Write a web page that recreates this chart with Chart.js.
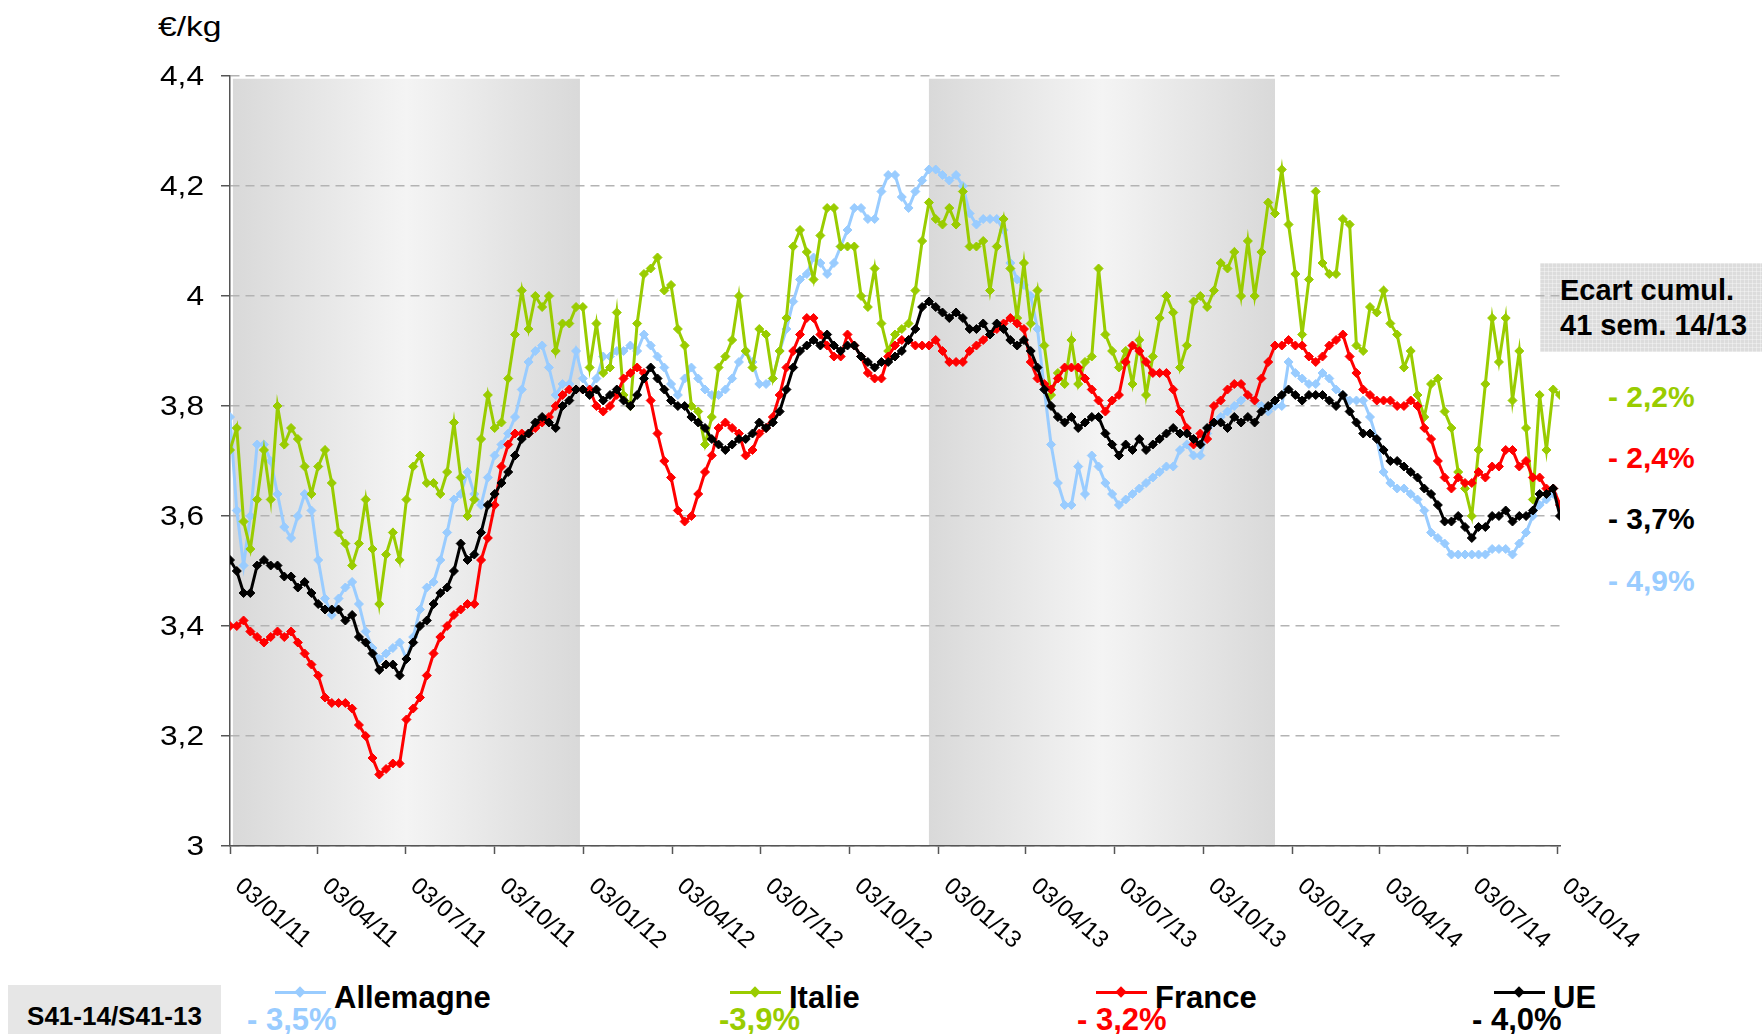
<!DOCTYPE html>
<html>
<head>
<meta charset="utf-8">
<script src="https://cdn.jsdelivr.net/npm/chart.js@4.4.0/dist/chart.umd.min.js"></script>
<style>
body{margin:0;background:#fff;font-family:"Liberation Sans",Arial,sans-serif;}
#wrap{position:relative;width:1762px;height:1034px;overflow:hidden;}
#chart{position:absolute;left:0;top:0;z-index:2;}
.t{position:absolute;line-height:1;white-space:nowrap;z-index:1;}
.b{font-weight:bold;}
</style>
</head>
<body>
<div id="wrap">
<canvas id="chart" width="1762" height="1034"></canvas>
</div>
<script>
// weekly prices, S1-11 .. S41-14, €/kg
var allemagne = [
3.78,3.61,3.51,3.60,3.73,3.73,3.70,3.64,3.58,3.56,
3.60,3.64,3.61,3.52,3.45,3.42,3.45,3.47,3.48,3.44,
3.39,3.36,3.34,3.35,3.36,3.37,3.34,3.38,3.43,3.47,
3.48,3.52,3.57,3.63,3.64,3.68,3.64,3.62,3.67,3.71,
3.73,3.75,3.78,3.83,3.88,3.90,3.91,3.87,3.82,3.84,
3.84,3.90,3.85,3.83,3.85,3.89,3.89,3.90,3.90,3.91,
3.90,3.93,3.91,3.89,3.87,3.84,3.82,3.85,3.87,3.85,
3.83,3.82,3.82,3.83,3.85,3.88,3.90,3.88,3.84,3.84,
3.85,3.90,3.94,3.99,4.03,4.04,4.07,4.06,4.04,4.06,
4.09,4.12,4.16,4.16,4.14,4.14,4.19,4.22,4.22,4.18,
4.16,4.19,4.21,4.23,4.23,4.22,4.21,4.22,4.20,4.15,
4.13,4.14,4.14,4.14,4.12,4.06,4.03,4.02,4.00,3.94,
3.83,3.73,3.66,3.62,3.62,3.69,3.64,3.71,3.69,3.66,
3.64,3.62,3.63,3.64,3.65,3.66,3.67,3.68,3.69,3.69,
3.72,3.73,3.71,3.71,3.75,3.77,3.78,3.79,3.80,3.81,
3.82,3.81,3.80,3.79,3.80,3.80,3.88,3.86,3.85,3.84,
3.84,3.86,3.85,3.83,3.82,3.81,3.81,3.81,3.78,3.74,
3.68,3.66,3.65,3.65,3.64,3.63,3.61,3.57,3.56,3.55,
3.53,3.53,3.53,3.53,3.53,3.53,3.54,3.54,3.54,3.53,
3.55,3.57,3.60,3.62,3.63,3.64,3.62];
var italie = [
3.72,3.76,3.59,3.54,3.63,3.72,3.63,3.80,3.73,3.76,
3.74,3.69,3.64,3.69,3.72,3.66,3.57,3.55,3.51,3.55,
3.63,3.54,3.44,3.53,3.57,3.52,3.63,3.69,3.71,3.66,
3.66,3.64,3.68,3.77,3.67,3.60,3.63,3.74,3.82,3.76,
3.77,3.85,3.93,4.01,3.94,4.00,3.98,4.00,3.90,3.95,
3.95,3.98,3.98,3.87,3.95,3.86,3.87,3.97,3.82,3.80,
3.95,4.04,4.05,4.07,4.01,4.02,3.94,3.91,3.80,3.79,
3.73,3.78,3.87,3.89,3.92,4.00,3.90,3.87,3.94,3.93,
3.85,3.90,3.96,4.09,4.12,4.08,4.03,4.11,4.16,4.16,
4.09,4.09,4.09,4.00,3.98,4.05,3.95,3.90,3.93,3.94,
3.95,4.01,4.10,4.17,4.14,4.13,4.16,4.13,4.19,4.09,
4.09,4.10,4.01,4.09,4.14,4.05,3.96,4.06,3.95,4.01,
3.91,3.82,3.86,3.84,3.92,3.84,3.88,3.89,4.05,3.93,
3.90,3.87,3.90,3.84,3.92,3.82,3.89,3.96,4.00,3.97,
3.87,3.91,3.99,4.00,3.98,4.01,4.06,4.05,4.08,4.00,
4.10,4.00,4.08,4.17,4.15,4.23,4.13,4.04,3.93,4.03,
4.19,4.06,4.04,4.04,4.14,4.13,3.91,3.90,3.98,3.97,
4.01,3.95,3.93,3.87,3.90,3.82,3.78,3.84,3.85,3.79,
3.76,3.68,3.65,3.60,3.72,3.84,3.96,3.88,3.96,3.81,
3.90,3.76,3.63,3.82,3.72,3.83,3.82];
var france = [
3.40,3.40,3.41,3.39,3.38,3.37,3.38,3.39,3.38,3.39,
3.37,3.35,3.33,3.31,3.27,3.26,3.26,3.26,3.25,3.22,
3.20,3.16,3.13,3.14,3.15,3.15,3.23,3.25,3.27,3.31,
3.35,3.38,3.40,3.42,3.43,3.44,3.44,3.52,3.56,3.62,
3.69,3.73,3.75,3.75,3.75,3.76,3.77,3.78,3.80,3.82,
3.83,3.83,3.83,3.83,3.80,3.79,3.80,3.82,3.85,3.86,
3.87,3.86,3.81,3.75,3.70,3.67,3.61,3.59,3.60,3.64,
3.68,3.71,3.76,3.77,3.76,3.75,3.71,3.72,3.75,3.76,
3.78,3.82,3.87,3.90,3.93,3.96,3.96,3.93,3.91,3.89,
3.89,3.93,3.91,3.89,3.86,3.85,3.85,3.89,3.91,3.92,
3.92,3.91,3.91,3.91,3.92,3.90,3.88,3.88,3.88,3.90,
3.91,3.92,3.93,3.94,3.95,3.96,3.95,3.94,3.88,3.85,
3.84,3.83,3.85,3.87,3.87,3.87,3.85,3.83,3.81,3.79,
3.81,3.82,3.88,3.91,3.90,3.88,3.86,3.86,3.86,3.83,
3.79,3.76,3.73,3.75,3.74,3.80,3.81,3.83,3.84,3.84,
3.82,3.81,3.85,3.88,3.91,3.91,3.92,3.91,3.91,3.89,
3.88,3.89,3.91,3.92,3.93,3.89,3.86,3.83,3.82,3.81,
3.81,3.81,3.80,3.80,3.81,3.80,3.76,3.74,3.70,3.67,
3.65,3.67,3.66,3.66,3.68,3.67,3.69,3.69,3.72,3.72,
3.69,3.70,3.67,3.67,3.65,3.65,3.62];
var ue = [
3.52,3.50,3.46,3.46,3.51,3.52,3.51,3.51,3.49,3.49,
3.47,3.48,3.46,3.44,3.43,3.43,3.43,3.41,3.42,3.38,
3.37,3.35,3.32,3.33,3.33,3.31,3.34,3.37,3.40,3.41,
3.44,3.46,3.47,3.50,3.55,3.52,3.53,3.57,3.62,3.64,
3.66,3.68,3.71,3.74,3.75,3.77,3.78,3.77,3.76,3.80,
3.81,3.83,3.83,3.82,3.83,3.81,3.82,3.83,3.81,3.80,
3.82,3.85,3.87,3.85,3.83,3.81,3.80,3.80,3.78,3.77,
3.76,3.74,3.73,3.72,3.73,3.74,3.74,3.75,3.77,3.76,
3.77,3.79,3.83,3.87,3.90,3.91,3.92,3.91,3.93,3.91,
3.90,3.91,3.91,3.89,3.88,3.87,3.88,3.88,3.89,3.90,
3.92,3.94,3.98,3.99,3.98,3.97,3.96,3.97,3.96,3.94,
3.94,3.95,3.93,3.95,3.94,3.92,3.91,3.92,3.90,3.87,
3.83,3.80,3.78,3.77,3.78,3.76,3.77,3.78,3.78,3.75,
3.73,3.71,3.73,3.72,3.74,3.72,3.73,3.74,3.75,3.76,
3.75,3.75,3.74,3.73,3.76,3.77,3.77,3.76,3.78,3.77,
3.78,3.77,3.79,3.80,3.81,3.82,3.83,3.82,3.81,3.82,
3.82,3.82,3.81,3.80,3.82,3.79,3.77,3.75,3.75,3.74,
3.72,3.70,3.70,3.69,3.68,3.67,3.65,3.64,3.62,3.59,
3.59,3.60,3.58,3.56,3.58,3.58,3.60,3.60,3.61,3.59,
3.60,3.60,3.61,3.64,3.64,3.65,3.60];

var seriesNames = ['Allemagne', 'Italie', 'France', 'UE'];
var seriesColors = ['#99ccff', '#99cc00', '#ff0000', '#000000'];
var weekChange = ['- 3,5%', '-3,9%', '- 3,2%', '- 4,0%'];
var cumulNames = ['Italie', 'France', 'UE', 'Allemagne'];
var cumulChange = ['- 2,2%', '- 2,4%', '- 3,7%', '- 4,9%'];
var xTickLabels = ['03/01/11','03/04/11','03/07/11','03/10/11','03/01/12','03/04/12','03/07/12','03/10/12',
  '03/01/13','03/04/13','03/07/13','03/10/13','03/01/14','03/04/14','03/07/14','03/10/14'];
// shaded years, in days from 03/01/11
var shadedYears = [[3, 361], [721, 1078]];

var DAY = 86400000;
var t0 = Date.UTC(2011, 0, 3);
function dayOf(s) {
  var p = s.split('/');
  return (Date.UTC(2000 + +p[2], +p[1] - 1, +p[0]) - t0) / DAY;
}
var tickDays = xTickLabels.map(dayOf);
var weeks = allemagne.map(function (v, i) { return i * 7; });

var FONT = '"Liberation Sans", Arial, sans-serif';
Chart.defaults.font.family = FONT;

function yLabel(v) { return String(Math.round(v * 10) / 10).replace('.', ','); }

var bandsPlugin = {
  id: 'bands',
  beforeDraw: function (chart) {
    var ctx = chart.ctx, x = chart.scales.x, y = chart.scales.y;
    shadedYears.forEach(function (r) {
      var x0 = x.getPixelForValue(r[0]), x1 = x.getPixelForValue(r[1]);
      var top = y.getPixelForValue(4.395), bottom = chart.chartArea.bottom;
      var g = ctx.createLinearGradient(x0, 0, x1, 0);
      g.addColorStop(0, '#d9d9d9');
      g.addColorStop(0.5, '#f4f4f4');
      g.addColorStop(1, '#d9d9d9');
      ctx.fillStyle = g;
      ctx.fillRect(x0, top, x1 - x0, bottom - top);
    });
  }
};

// axis labels: rotated dates under x, slightly wide numbers left of y
var labelsPlugin = {
  id: 'axislabels',
  afterDraw: function (chart) {
    var ctx = chart.ctx, x = chart.scales.x, y = chart.scales.y;
    ctx.save();
    ctx.fillStyle = '#000';
    ctx.font = '24px ' + FONT;
    ctx.textBaseline = 'top';
    ctx.textAlign = 'left';
    xTickLabels.forEach(function (lab, i) {
      var px = x.getPixelForValue(tickDays[i]);
      ctx.save();
      ctx.translate(px + 16, 874);
      ctx.rotate(41 * Math.PI / 180);
      ctx.fillText(lab, 0, 0);
      ctx.restore();
    });
    ctx.font = '28px ' + FONT;
    ctx.textBaseline = 'middle';
    ctx.textAlign = 'right';
    y.ticks.forEach(function (t) {
      ctx.save();
      ctx.translate(204, y.getPixelForValue(t.value) + 1);
      ctx.scale(1.13, 1);
      ctx.fillText(yLabel(t.value), 0, 0);
      ctx.restore();
    });
    ctx.restore();
  }
};

function makeSet(name, data, color, order) {
  return {
    label: name, data: data, order: order,
    borderColor: color, backgroundColor: color,
    borderWidth: 3, tension: 0, fill: false,
    pointStyle: 'rectRot', pointRadius: 4.5,
    pointBackgroundColor: color, pointBorderColor: color, pointBorderWidth: 1
  };
}

var seriesData = [allemagne, italie, france, ue];
var ctx = document.getElementById('chart').getContext('2d');
var myChart = new Chart(ctx, {
  type: 'line',
  data: {
    labels: weeks,
    datasets: seriesNames.map(function (n, i) {
      return makeSet(n, seriesData[i], seriesColors[i], 3 - i);
    })
  },
  options: {
    responsive: false,
    animation: false,
    devicePixelRatio: 1,
    layout: { padding: { top: 76, right: 202, left: 0, bottom: 0 } },
    plugins: { legend: { display: false }, tooltip: { enabled: false } },
    scales: {
      x: {
        type: 'linear', min: 0, max: 1372,
        afterBuildTicks: function (s) { s.ticks = tickDays.map(function (v) { return { value: v }; }); },
        afterFit: function (s) { s.height = 188; },
        ticks: { display: false },
        grid: { drawOnChartArea: false, drawTicks: true, tickLength: 8, tickColor: '#555', tickWidth: 1.5 },
        border: { color: '#555', width: 1.5 }
      },
      y: {
        min: 3, max: 4.4,
        afterFit: function (s) { s.width = 230; },
        ticks: { display: false, stepSize: 0.2 },
        grid: { color: '#b3b3b3', lineWidth: 1.5, tickColor: '#555', tickLength: 9, tickWidth: 1.5 },
        border: { color: '#555', width: 1.5, dash: [9, 6] }
      }
    }
  },
  plugins: [bandsPlugin, labelsPlugin]
});

// texts around the chart
var wrap = document.getElementById('wrap');
function addText(txt, left, top, size, color, bold, extra) {
  var d = document.createElement('div');
  d.className = 't' + (bold ? ' b' : '');
  d.style.left = left + 'px';
  d.style.top = top + 'px';
  d.style.fontSize = size + 'px';
  d.style.color = color;
  if (extra) d.style.cssText += extra;
  d.innerHTML = txt;
  wrap.appendChild(d);
  return d;
}

addText('€/kg', 158, 13, 28, '#000', false, 'transform:scaleX(1.2);transform-origin:0 0;');

addText('Ecart cumul.<br>41 sem. 14/13', 1540, 263, 29, '#000', true,
  'width:222px;height:89px;padding-left:20px;padding-top:10px;box-sizing:border-box;line-height:35px;' +
  'background-color:#dcdcdc;background-image:repeating-linear-gradient(0deg,rgba(255,255,255,.35) 0 1px,transparent 1px 4px),' +
  'repeating-linear-gradient(90deg,rgba(255,255,255,.35) 0 1px,transparent 1px 4px);');

var cumulTops = [382, 443, 504, 566];
cumulChange.forEach(function (txt, i) {
  var c = seriesColors[seriesNames.indexOf(cumulNames[i])];
  addText(txt, 1608, cumulTops[i], 30, c, true);
});

addText('S41-14/S41-13', 8, 985, 26, '#000', true,
  'width:213px;height:49px;background:#e6e6e6;text-align:center;padding-top:18px;box-sizing:border-box;');

var legendLeft = [275, 730, 1096, 1494];
var changeLeft = [247, 719, 1077, 1472];
seriesNames.forEach(function (n, i) {
  var L = legendLeft[i], c = seriesColors[i];
  addText('', L, 991, 1, c, false, 'width:51px;height:3px;background:' + c + ';');
  addText('', L + 21, 988, 1, c, false, 'width:8px;height:8px;background:' + c + ';transform:rotate(45deg);');
  addText(n, L + 59, 982, 31, '#000', true);
  addText(weekChange[i], changeLeft[i], 1004, 31, c, true);
});
</script>
</body>
</html>
